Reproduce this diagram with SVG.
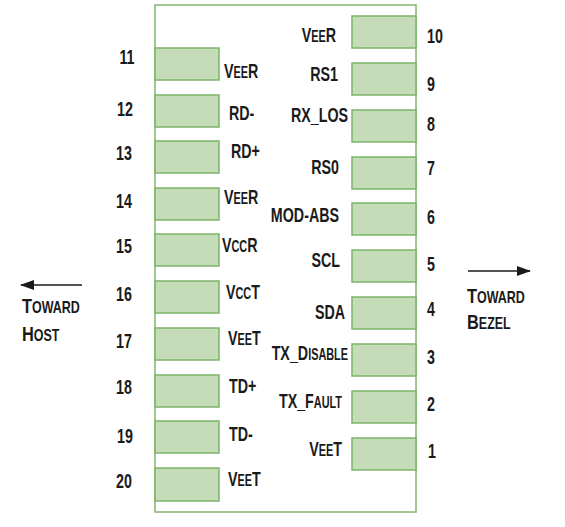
<svg xmlns="http://www.w3.org/2000/svg" width="565" height="527" viewBox="0 0 565 527">
<style>
.pin{fill:#c4dcb8;stroke:#7db36b;stroke-width:1.5}
.box{fill:#fff;stroke:#80b670;stroke-width:1.5}
text{font-family:"Liberation Sans",Arial,sans-serif;font-weight:bold;font-size:21px;fill:#1a1a1a}
.sc{font-size:16px}
.arrow{stroke:#1a1a1a;stroke-width:1.5;fill:none}
</style>
<defs>
<marker id="ah" viewBox="0 0 14 10" refX="13" refY="5" markerWidth="14" markerHeight="10" markerUnits="userSpaceOnUse" orient="auto">
<path d="M0,0 L14,5 L0,10 z" fill="#1a1a1a"/>
</marker>
</defs>
<rect id="body" class="box" x="155" y="5" width="261" height="507"/>
<g id="left-pins">
<g id="pin11"><rect class="pin" x="155" y="48" width="64" height="32"/><text transform="translate(127,64) scale(0.68,1)" text-anchor="middle">11</text><text transform="translate(224,78) scale(0.68,1)">V<tspan class="sc">EE</tspan>R</text></g>
<g id="pin12"><rect class="pin" x="155" y="95" width="64" height="32"/><text transform="translate(125,116) scale(0.68,1)" text-anchor="middle">12</text><text transform="translate(229,120) scale(0.68,1)">RD-</text></g>
<g id="pin13"><rect class="pin" x="155" y="141" width="64" height="32"/><text transform="translate(124,160) scale(0.68,1)" text-anchor="middle">13</text><text transform="translate(231,158) scale(0.68,1)">RD+</text></g>
<g id="pin14"><rect class="pin" x="155" y="188" width="64" height="32"/><text transform="translate(124,208) scale(0.68,1)" text-anchor="middle">14</text><text transform="translate(224,204) scale(0.68,1)">V<tspan class="sc">EE</tspan>R</text></g>
<g id="pin15"><rect class="pin" x="155" y="234" width="64" height="32"/><text transform="translate(124,253) scale(0.68,1)" text-anchor="middle">15</text><text transform="translate(222,252) scale(0.68,1)">V<tspan class="sc">CC</tspan>R</text></g>
<g id="pin16"><rect class="pin" x="155" y="281" width="64" height="32"/><text transform="translate(124,301) scale(0.68,1)" text-anchor="middle">16</text><text transform="translate(226,299) scale(0.68,1)">V<tspan class="sc">CC</tspan>T</text></g>
<g id="pin17"><rect class="pin" x="155" y="328" width="64" height="32"/><text transform="translate(124,348) scale(0.68,1)" text-anchor="middle">17</text><text transform="translate(228,345) scale(0.68,1)">V<tspan class="sc">EE</tspan>T</text></g>
<g id="pin18"><rect class="pin" x="155" y="375" width="64" height="32"/><text transform="translate(124,394) scale(0.68,1)" text-anchor="middle">18</text><text transform="translate(229,393) scale(0.68,1)">TD+</text></g>
<g id="pin19"><rect class="pin" x="155" y="421" width="64" height="32"/><text transform="translate(125,443) scale(0.68,1)" text-anchor="middle">19</text><text transform="translate(229,441) scale(0.68,1)">TD-</text></g>
<g id="pin20"><rect class="pin" x="155" y="468" width="64" height="33"/><text transform="translate(124,488) scale(0.68,1)" text-anchor="middle">20</text><text transform="translate(228,486) scale(0.68,1)">V<tspan class="sc">EE</tspan>T</text></g>
</g>
<g id="right-pins">
<g id="pin10"><rect class="pin" x="352" y="16" width="64" height="32"/><text transform="translate(427,43) scale(0.68,1)">10</text><text transform="translate(336,42) scale(0.68,1)" text-anchor="end">V<tspan class="sc">EE</tspan>R</text></g>
<g id="pin9"><rect class="pin" x="352" y="63" width="64" height="32"/><text transform="translate(427,91) scale(0.68,1)">9</text><text transform="translate(338,81) scale(0.68,1)" text-anchor="end">RS1</text></g>
<g id="pin8"><rect class="pin" x="352" y="110" width="64" height="32"/><text transform="translate(427,131) scale(0.68,1)">8</text><text transform="translate(348,122) scale(0.68,1)" text-anchor="end">RX_LOS</text></g>
<g id="pin7"><rect class="pin" x="352" y="157" width="64" height="32"/><text transform="translate(427,175) scale(0.68,1)">7</text><text transform="translate(339,174) scale(0.68,1)" text-anchor="end">RS0</text></g>
<g id="pin6"><rect class="pin" x="352" y="203" width="64" height="32"/><text transform="translate(427,224) scale(0.68,1)">6</text><text transform="translate(339,222) scale(0.68,1)" text-anchor="end">MOD-ABS</text></g>
<g id="pin5"><rect class="pin" x="352" y="250" width="64" height="32"/><text transform="translate(427,271) scale(0.68,1)">5</text><text transform="translate(340,267) scale(0.68,1)" text-anchor="end">SCL</text></g>
<g id="pin4"><rect class="pin" x="352" y="297" width="64" height="32"/><text transform="translate(427,316) scale(0.68,1)">4</text><text transform="translate(345,319) scale(0.68,1)" text-anchor="end">SDA</text></g>
<g id="pin3"><rect class="pin" x="352" y="344" width="64" height="32"/><text transform="translate(427,364) scale(0.68,1)">3</text><text transform="translate(348,360) scale(0.68,1)" text-anchor="end">TX_D<tspan class="sc">ISABLE</tspan></text></g>
<g id="pin2"><rect class="pin" x="352" y="391" width="64" height="32"/><text transform="translate(427,411) scale(0.68,1)">2</text><text transform="translate(342,408) scale(0.68,1)" text-anchor="end">TX_F<tspan class="sc">AULT</tspan></text></g>
<g id="pin1"><rect class="pin" x="352" y="438" width="64" height="32"/><text transform="translate(428,458) scale(0.68,1)">1</text><text transform="translate(342,456) scale(0.68,1)" text-anchor="end">V<tspan class="sc">EE</tspan>T</text></g>
</g>
<g id="connectors">
<line class="arrow" x1="82" y1="285" x2="21" y2="285" marker-end="url(#ah)"/>
<line class="arrow" x1="468" y1="271" x2="530" y2="271" marker-end="url(#ah)"/>
</g>
<g id="host-label"><text transform="translate(22,313) scale(0.78,1)">T<tspan class="sc">OWARD</tspan></text><text transform="translate(22,341) scale(0.78,1)">H<tspan class="sc">OST</tspan></text></g>
<g id="bezel-label"><text transform="translate(467,303) scale(0.78,1)">T<tspan class="sc">OWARD</tspan></text><text transform="translate(467,329) scale(0.78,1)">B<tspan class="sc">EZEL</tspan></text></g>
</svg>
